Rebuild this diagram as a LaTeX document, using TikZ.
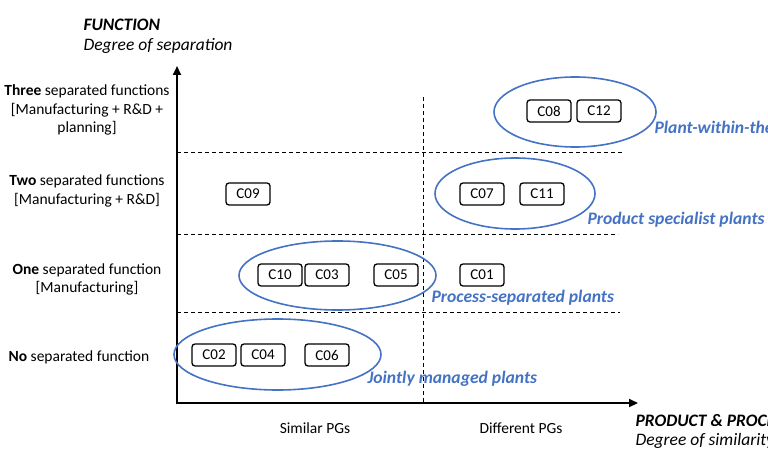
\documentclass[tikz,border=0pt]{standalone}
\usepackage{fontspec}
\setmainfont{Carlito}
\usetikzlibrary{arrows.meta}
\definecolor{CB}{RGB}{68,114,196}

\begin{document}
\begin{tikzpicture}[x=1pt,y=-1pt,
      firm/.style={draw,rounded corners=3pt,line width=1.3pt,
                   minimum width=44pt,minimum height=22pt,
                   inner sep=0pt,font=\fontsize{15}{15}\selectfont},
      lvl/.style={align=center,font=\fontsize{15.5}{18.5}\selectfont},
      axlab/.style={anchor=west,font=\fontsize{17.5}{17.5}\selectfont\itshape},
      cat/.style={font=\fontsize{15.5}{15.5}\selectfont},
      grp/.style={draw=CB,line width=1.6pt},
      grplab/.style={CB,anchor=west,
                     font=\fontsize{17.6}{17.6}\selectfont\bfseries\itshape},
      divider/.style={line width=0.6pt,dash pattern=on 4pt off 3pt},
      arr/.style={{Triangle[length=9pt,width=8pt]}-{Triangle[length=9pt,width=8pt]},
                  line width=2.2pt}]
    \useasboundingbox (0,0) rectangle (768,457);
    \clip (0,0) rectangle (768,457);
    % axes
    \coordinate (O) at (177,403);
    \coordinate (ytop) at (177,66);
    \coordinate (xend) at (638,403);
    \draw[arr] (ytop) -- (O) -- (xend);
    \node[axlab] (fun) at (80,25) {\bfseries FUNCTION};
    \node[axlab] (funsub) at (80,46) {Degree of separation};
    \node[axlab] (prod) at (632,421) {\bfseries PRODUCT \& PROCESS};
    \node[axlab] (prodsub) at (632,441) {Degree of similarity};
    % grid
    \draw[divider] (177,152) -- (624,152);
    \draw[divider] (177,234) -- (618,234);
    \draw[divider] (177,312) -- (620,312);
    \draw[divider] (423,97) -- (423,403);
    % levels
    \node[lvl] (three) at (87,110)
      {\textbf{Three} separated functions\\{[}Manufacturing + R\&D +\\planning]};
    \node[lvl] (two) at (87,191)
      {\textbf{Two} separated functions\\{[}Manufacturing + R\&D]};
    \node[lvl] (one) at (87,279.5)
      {\textbf{One} separated function\\{[}Manufacturing]};
    \node[lvl] (none) at (79,357) {\textbf{No} separated function};
    \node[cat] (similar) at (315,428) {Similar PGs};
    \node[cat] (different) at (521,428) {Different PGs};
    % cases
    \node[firm] (c08) at (549,111) {C08};
    \node[firm] (c12) at (599,111) {C12};
    \node[firm] (c09) at (248,194) {C09};
    \node[firm] (c07) at (482,194) {C07};
    \node[firm] (c11) at (542,194) {C11};
    \node[firm] (c10) at (280,275) {C10};
    \node[firm] (c03) at (327,275) {C03};
    \node[firm] (c05) at (396,275) {C05};
    \node[firm] (c01) at (482,275) {C01};
    \node[firm] (c02) at (214,355) {C02};
    \node[firm] (c04) at (263,355) {C04};
    \node[firm] (c06) at (327,355) {C06};
    % plant types
    \draw[grp] (575,112) ellipse [x radius=81,y radius=35];
    \draw[grp] (515,193.5) ellipse [x radius=80,y radius=35.5];
    \draw[grp] (337.5,275.5) ellipse [x radius=98.5,y radius=34.5];
    \draw[grp] (277.5,354.5) ellipse [x radius=103.5,y radius=35.5];
    \node[grplab] (pwp) at (651,129) {Plant-within-the-plant};
    \node[grplab] (psp) at (584,220) {Product specialist plants};
    \node[grplab] (prsp) at (428,298) {Process-separated plants};
    \node[grplab] (jmp) at (364,379) {Jointly managed plants};
  \end{tikzpicture}
\end{document}
